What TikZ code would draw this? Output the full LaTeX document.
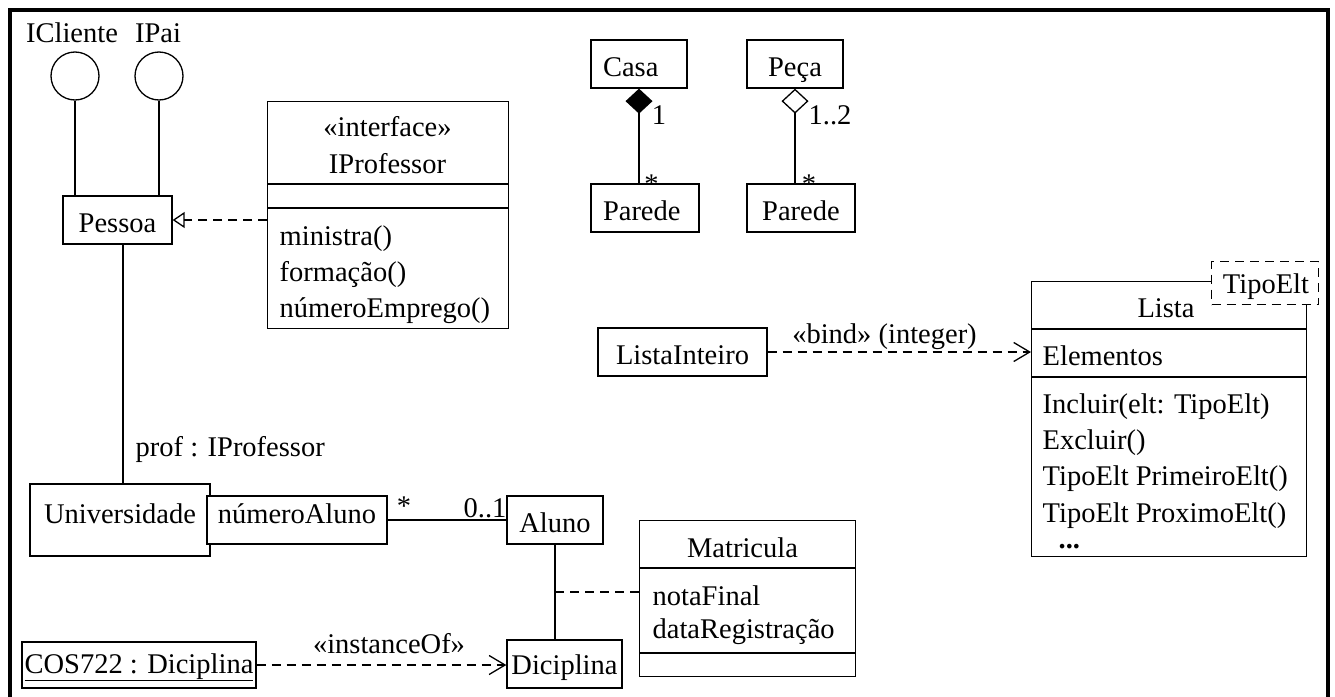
\documentclass[tikz,border=0pt]{standalone}
\usepackage{fontspec}
\setmainfont{Liberation Serif}
\usetikzlibrary{arrows.meta,calc}
\begin{document}
\begin{tikzpicture}[x=1pt,y=-1pt,line width=1.3pt,
  every node/.style={font=\fontsize{28.5}{34}\selectfont, inner sep=0pt, text height=20pt, text depth=6pt},
  box/.style={draw, rectangle, inner sep=0pt},
  lowtxt/.style={text height=31pt, text depth=6pt},
  midtxt/.style={text height=12pt, text depth=6pt},
  lbl/.style={anchor=base},
  lblw/.style={anchor=base west},
  dsh/.style={dash pattern=on 9pt off 6pt},
  barb/.style={-{Straight Barb[length=16pt,width=19pt]}},
  iface/.style={draw, circle, minimum size=48pt}
]
\useasboundingbox (0,0) rectangle (1335,696);
\draw[line width=4pt] (10,700) -- (10,10) -- (1328,10) -- (1328,700);

% interfaces and Pessoa
\node (icl) [lbl] at (72,42) {ICliente};
\node (ipai) [lbl] at (158,42) {IPai};
\node (c1) [iface] at (75,76) {};
\node (c2) [iface] at (159,76) {};
\node (pessoa) [box, lowtxt, minimum width=109pt, minimum height=48pt] at (117.5,220) {Pessoa};
\draw (c1.south) -- (c1.south |- pessoa.north);
\draw (c2.south) -- (c2.south |- pessoa.north);

% IProfessor
\node (iprof) [box, minimum width=241pt, minimum height=227pt, anchor=north west] at (267,101) {};
\draw (267,184) -- (508,184);
\draw (267,208) -- (508,208);
\node (ipst) [lbl] at (387.5,136) {«interface»};
\node (ipn) [lbl] at (387.5,173) {IProfessor};
\node (ipm1) [lblw] at (279,245) {ministra()};
\node (ipm2) [lblw] at (279,281) {formação()};
\node (ipm3) [lblw] at (279,317) {númeroEmprego()};
\draw[dsh, -{Triangle[open, length=12pt, width=16pt]}] (iprof.west |- pessoa.east) -- (pessoa.east);

% Universidade
\node (univ) [box, midtxt, minimum width=180pt, minimum height=72pt] at (120,520) {Universidade};
\node (numal) [box, midtxt, fill=white, minimum width=180pt, minimum height=48pt] at (297,520) {númeroAluno};
\draw ([xshift=5.5pt]pessoa.south) -- ([xshift=5.5pt]pessoa.south |- univ.north);
\node (prof) [lblw] at (135,456) {prof : IProfessor};
\node (aluno) [box, lowtxt, minimum width=96pt, minimum height=48pt] at (555,520) {Aluno};
\draw (numal.east) -- (aluno.west);
\node (ma1) [lbl] at (404,515) {*};
\node (ma2) [lbl] at (485,517) {0..1};

% Casa / Parede
\node (casa) [box, lowtxt, minimum height=48pt, text width=72pt, inner xsep=12pt, align=left] at (639,64) {Casa};
\node (par1) [box, lowtxt, minimum height=48pt, text width=84pt, inner xsep=12pt, align=left] at (645,208) {Parede};
\draw[{Diamond[length=25pt, width=27pt]}-] (casa.south) -- (casa.south |- par1.north);
\node (mc1) [lbl] at (659,124) {1};
\node (mc2) [lbl] at (651.5,193.5) {*};

% Peca / Parede
\node (peca) [box, lowtxt, minimum width=96pt, minimum height=48pt] at (795,64) {Peça};
\node (par2) [box, lowtxt, minimum width=108pt, minimum height=48pt] at (801,208) {Parede};
\draw[{Diamond[open, fill=white, length=25pt, width=27pt]}-] (peca.south) -- (peca.south |- par2.north);
\node (mp1) [lbl] at (830,124) {1..2};
\node (mp2) [lbl] at (809,193.5) {*};

% Lista
\node (lint) [box, lowtxt, minimum width=169pt, minimum height=48pt] at (682.5,352) {ListaInteiro};
\node (lista) [box, minimum width=275pt, minimum height=275pt, anchor=north west] at (1031,281) {};
\draw (1031,329) -- (1306,329);
\draw (1031,377) -- (1306,377);
\node (tipo) [box, dsh, fill=white, minimum width=107pt, minimum height=43pt, anchor=north west] at (1211,261) {};
\node (tipot) [lbl] at (1266,293) {TipoElt};
\node (listat) [lbl] at (1166,317) {Lista};
\node (elem) [lblw] at (1042,365) {Elementos};
\node (op1) [lblw] at (1042,413) {Incluir(elt: TipoElt)};
\node (op2) [lblw] at (1042,449) {Excluir()};
\node (op3) [lblw] at (1042,485) {TipoElt PrimeiroElt()};
\node (op4) [lblw] at (1042,522) {TipoElt ProximoElt()};
\node (op5) [lblw, text height=6pt, text depth=0pt] at (1058,548) {\textbf{...}};
\draw[dsh, barb] (lint.east) -- (lint.east -| lista.west);
\node (bindl) [lbl] at (884.5,343) {«bind» (integer)};

% Matricula
\node (matr) [box, minimum width=216pt, minimum height=156pt, anchor=north west] at (639,520) {};
\draw (639,568) -- (855,568);
\draw (639,653) -- (855,653);
\node (matt) [lbl] at (742.5,557) {Matricula};
\node (mat1) [lblw] at (652,605) {notaFinal};
\node (mat2) [lblw] at (652,638) {dataRegistração};

% Diciplina
\node (dicip) [box, text height=26pt, text depth=6pt, minimum width=115pt, minimum height=48pt] at (564.5,664) {Diciplina};
\draw (aluno.south) -- (aluno.south |- dicip.north);
\coordinate (midp) at ($(aluno.south)!0.5!(aluno.south |- dicip.north)$);
\draw[dsh] (midp) -- (midp -| matr.west);

% COS722
\node (cos) [box, text height=22pt, text depth=6pt, minimum width=234pt, minimum height=46pt] at (139,665) {\underline{COS722 : Diciplina}};
\draw[dsh, barb] (cos.east) -- (cos.east -| dicip.west);
\node (instl) [lbl] at (389,653) {«instanceOf»};
\end{tikzpicture}
\end{document}
